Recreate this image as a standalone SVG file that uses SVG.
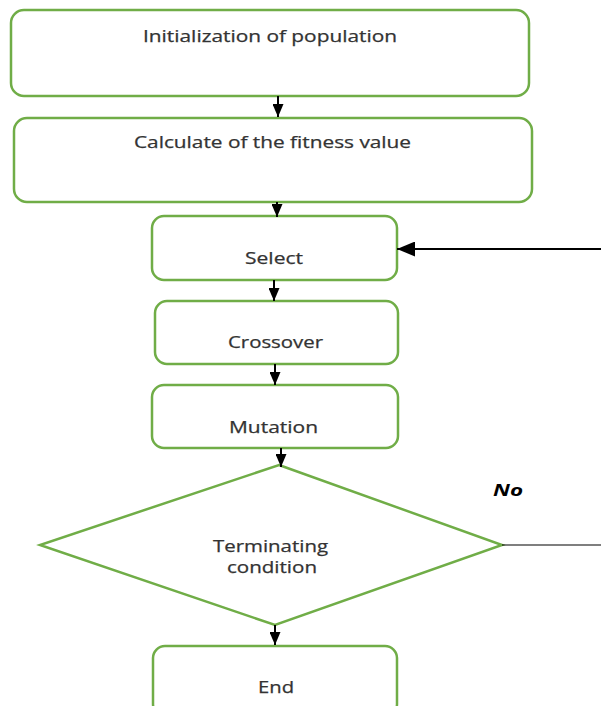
<svg xmlns="http://www.w3.org/2000/svg" width="601" height="706" viewBox="0 0 601 706">
<defs>
<style>
.node{fill:#ffffff;stroke:#70ad47;stroke-width:2.5}
.lbl{font-family:"Open Sans","Liberation Sans",sans-serif;font-size:16px;fill:#333333;stroke:#333333;stroke-width:0.25}
.conn{stroke:#000;stroke-width:2;fill:none}
</style>
<marker id="ah" viewBox="0 0 13 11" refX="13" refY="5.5" markerWidth="13" markerHeight="11" markerUnits="userSpaceOnUse" orient="auto">
<path d="M0,0 L13,5.5 L0,11 Z" fill="#000"/>
</marker>
<marker id="ah2" viewBox="0 0 18 15" refX="18" refY="7.5" markerWidth="18" markerHeight="15" markerUnits="userSpaceOnUse" orient="auto">
<path d="M0,0 L18,7.5 L0,15 Z" fill="#000"/>
</marker>
</defs>
<rect width="601" height="706" fill="#fff"/>
<g id="init">
<rect class="node" x="11" y="10" width="518" height="86" rx="13"/>
<text class="lbl" x="143" y="42" textLength="254" lengthAdjust="spacingAndGlyphs">Initialization of population</text>
</g>
<g id="fitness">
<rect class="node" x="14" y="118" width="518" height="84" rx="13"/>
<text class="lbl" x="134" y="148" textLength="277" lengthAdjust="spacingAndGlyphs">Calculate of the fitness value</text>
</g>
<g id="select">
<rect class="node" x="152" y="216" width="245" height="64" rx="12"/>
<text class="lbl" x="245" y="264" textLength="58" lengthAdjust="spacingAndGlyphs">Select</text>
</g>
<g id="crossover">
<rect class="node" x="155" y="301" width="243" height="63" rx="12"/>
<text class="lbl" x="228" y="348" textLength="95" lengthAdjust="spacingAndGlyphs">Crossover</text>
</g>
<g id="mutation">
<rect class="node" x="152" y="385" width="246" height="63" rx="12"/>
<text class="lbl" x="229" y="433" textLength="89" lengthAdjust="spacingAndGlyphs">Mutation</text>
</g>
<g id="decision">
<polygon class="node" points="279,465 502,545 275,625 40,545"/>
<text class="lbl" x="213" y="552" textLength="115" lengthAdjust="spacingAndGlyphs">Terminating</text>
<text class="lbl" x="227" y="573" textLength="90" lengthAdjust="spacingAndGlyphs">condition</text>
</g>
<g id="end">
<rect class="node" x="153" y="646" width="244" height="70" rx="12"/>
<text class="lbl" x="258" y="693" textLength="36" lengthAdjust="spacingAndGlyphs">End</text>
</g>
<g id="connectors">
<line class="conn" x1="278" y1="96" x2="278" y2="117" marker-end="url(#ah)"/>
<line class="conn" x1="277" y1="202" x2="277" y2="217" marker-end="url(#ah)"/>
<line class="conn" x1="274" y1="280" x2="274" y2="301" marker-end="url(#ah)"/>
<line class="conn" x1="275" y1="364" x2="275" y2="385" marker-end="url(#ah)"/>
<line class="conn" x1="281" y1="448" x2="281" y2="467" marker-end="url(#ah)"/>
<line class="conn" x1="275" y1="625" x2="275" y2="645" marker-end="url(#ah)"/>
<line x1="502" y1="545" x2="601" y2="545" stroke="#000" stroke-width="1.2"/>
<line class="conn" x1="601" y1="249" x2="397" y2="249" marker-end="url(#ah2)"/>
<text x="493" y="496" textLength="30" lengthAdjust="spacingAndGlyphs" style="font-family:'Open Sans','Liberation Sans',sans-serif;font-size:16px;font-weight:bold;font-style:italic;fill:#000">No</text>
</g>
</svg>
